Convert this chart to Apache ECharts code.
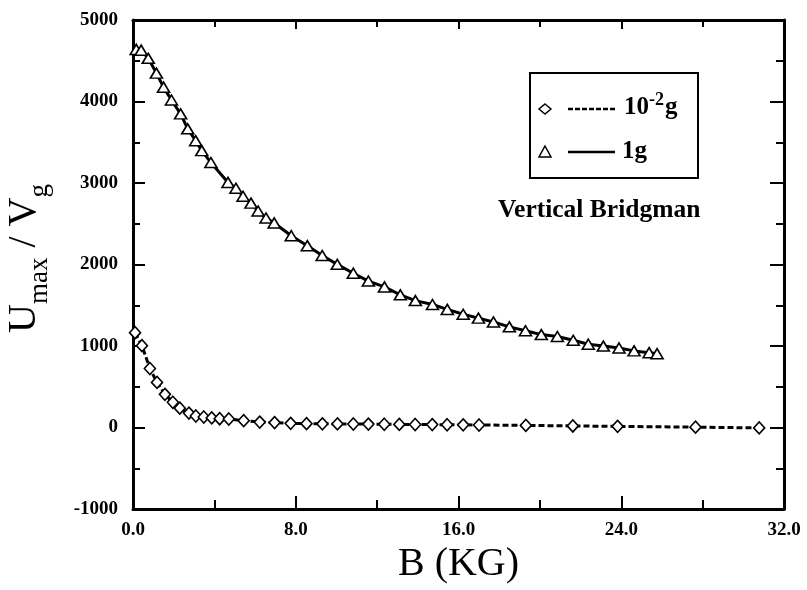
<!DOCTYPE html>
<html>
<head>
<meta charset="utf-8">
<script src="https://cdn.jsdelivr.net/npm/echarts@6/dist/echarts.min.js"></script>
<style>
  html, body { margin: 0; padding: 0; background: #fff; }
  #chart { width: 807px; height: 590px; }
</style>
</head>
<body>
<div id="chart"></div>
<script>
// Magnetic field B (kG) and Umax/Vg for the two gravity levels
const bField1g = [0.16, 0.40, 0.75, 1.15, 1.50, 1.89, 2.34, 2.69, 3.08, 3.38, 3.83, 4.67, 5.06, 5.41, 5.80,
  6.15, 6.54, 6.94, 7.78, 8.57, 9.30, 10.04, 10.83, 11.57, 12.36, 13.14, 13.88, 14.72, 15.45, 16.23,
  16.98, 17.72, 18.50, 19.29, 20.07, 20.86, 21.64, 22.38, 23.12, 23.89, 24.63, 25.37, 25.76];
const ratio1g = [4639, 4630, 4530, 4348, 4176, 4018, 3848, 3665, 3519, 3397, 3251, 3007, 2935, 2837, 2753,
  2656, 2570, 2510, 2353, 2231, 2110, 2002, 1893, 1797, 1725, 1628, 1557, 1509, 1449, 1389,
  1342, 1295, 1235, 1187, 1140, 1116, 1070, 1022, 999, 976, 940, 918, 906];

const bFieldMicro = [0.10, 0.44, 0.83, 1.18, 1.57, 1.96, 2.30, 2.75, 3.09, 3.48, 3.87, 4.26, 4.71, 5.44, 6.23,
  6.96, 7.75, 8.53, 9.31, 10.05, 10.83, 11.57, 12.35, 13.09, 13.87, 14.71, 15.44, 16.23, 17.01, 19.31,
  21.62, 23.82, 27.65, 30.78];
const ratioMicro = [1163, 1004, 724, 553, 407, 310, 237, 177, 141, 129, 118, 108, 104, 84, 66,
  60, 51, 47, 45, 44, 43, 42, 40, 38, 37, 36, 34, 33, 31, 26,
  19, 14, 4, -5];

const xTickLabels = ['0.0', '8.0', '16.0', '24.0', '32.0'];
const yTickLabels = ['-1000', '0', '1000', '2000', '3000', '4000', '5000'];

const X_MIN = 0, X_MAX = 32, X_STEP = 8;
const Y_MIN = -1000, Y_MAX = 5000, Y_STEP = 1000;

const FONT = '"Liberation Serif", "DejaVu Serif", serif';

function pairs(xs, ys) { return xs.map((x, i) => [x, ys[i]]); }

const chart = echarts.init(document.getElementById('chart'), null, { renderer: 'canvas' });

const axisLine = { show: true, onZero: false, lineStyle: { color: '#000', width: 3 } };

const option = {
  backgroundColor: '#fff',
  animation: false,
  grid: { left: 133, right: 23, top: 20, bottom: 81, containLabel: false, outerBoundsMode: 'none' },
  xAxis: [{
    type: 'value', min: X_MIN, max: X_MAX, interval: X_STEP, position: 'bottom',
    axisLine: axisLine,
    axisTick: { show: true, inside: true, length: 13, lineStyle: { color: '#000', width: 2 } },
    minorTick: { show: true, splitNumber: 2, length: 9, lineStyle: { color: '#000', width: 2 } },
    splitLine: { show: false },
    axisLabel: {
      color: '#000', fontFamily: FONT, fontWeight: 'bold', fontSize: 19, margin: 12,
      formatter: v => xTickLabels[Math.round((v - X_MIN) / X_STEP)]
    },
    name: 'B (KG)', nameLocation: 'middle', nameGap: 35,
    nameTextStyle: { color: '#000', fontFamily: FONT, fontSize: 40 }
  }, {
    type: 'value', min: X_MIN, max: X_MAX, interval: X_STEP, position: 'top',
    axisLine: axisLine,
    axisTick: { show: true, inside: true, length: 9, lineStyle: { color: '#000', width: 2 } },
    minorTick: { show: true, splitNumber: 2, length: 7, lineStyle: { color: '#000', width: 2 } },
    splitLine: { show: false }, axisLabel: { show: false }
  }],
  yAxis: [{
    type: 'value', min: Y_MIN, max: Y_MAX, interval: Y_STEP, position: 'left',
    axisLine: axisLine,
    axisTick: { show: true, inside: true, length: 12, lineStyle: { color: '#000', width: 2 } },
    minorTick: { show: true, splitNumber: 2, length: 7, lineStyle: { color: '#000', width: 2 } },
    splitLine: { show: false },
    axisLabel: {
      color: '#000', fontFamily: FONT, fontWeight: 'bold', fontSize: 19, margin: 15,
      formatter: v => yTickLabels[Math.round((v - Y_MIN) / Y_STEP)]
    },
    name: '{u|U}{s|max}{u| / V}{s|g}', nameLocation: 'middle', nameGap: 80, nameRotate: 90,
    nameTextStyle: {
      color: '#000', fontFamily: FONT, padding: [0, 0, 0, 12],
      rich: {
        u: { fontFamily: FONT, fontSize: 40, color: '#000', verticalAlign: 'bottom', padding: [0, 0, 9, 0] },
        s: { fontFamily: FONT, fontSize: 27, color: '#000', verticalAlign: 'bottom' }
      }
    }
  }, {
    type: 'value', min: Y_MIN, max: Y_MAX, interval: Y_STEP, position: 'right',
    axisLine: axisLine,
    axisTick: { show: true, inside: true, length: 14, lineStyle: { color: '#000', width: 2 } },
    minorTick: { show: true, splitNumber: 2, length: 8, lineStyle: { color: '#000', width: 2 } },
    splitLine: { show: false }, axisLabel: { show: false }
  }],
  series: [{
    name: '1g', type: 'line', xAxisIndex: 0, yAxisIndex: 0,
    data: pairs(bField1g, ratio1g),
    symbol: 'triangle', symbolSize: [12, 10],
    lineStyle: { color: '#000', width: 3 },
    itemStyle: { color: '#fff', borderColor: '#000', borderWidth: 1.6 },
    z: 3
  }, {
    name: '10-2g', type: 'line', xAxisIndex: 0, yAxisIndex: 0,
    data: pairs(bFieldMicro, ratioMicro),
    symbol: 'diamond', symbolSize: [11, 12],
    lineStyle: { color: '#000', width: 3, type: [6, 3] },
    itemStyle: { color: '#fff', borderColor: '#000', borderWidth: 1.6 },
    z: 3
  }],
  graphic: [{
    type: 'group', left: 529, top: 72,
    children: [
      { type: 'rect', shape: { x: 0, y: 0, width: 168, height: 105 },
        style: { fill: '#fff', stroke: '#000', lineWidth: 2 } },
      { type: 'polygon', shape: { points: [[15, 31], [21, 36], [15, 41], [9, 36]] },
        style: { fill: '#fff', stroke: '#000', lineWidth: 1.5 } },
      { type: 'line', shape: { x1: 38, y1: 36, x2: 85, y2: 36 },
        style: { stroke: '#000', lineWidth: 2.5, lineDash: [5, 2] } },
      { type: 'text', x: 94, y: 47,
        style: {
          text: '{n|10}{p|-2}{n|g}', textVerticalAlign: 'bottom',
          rich: {
            n: { fontFamily: FONT, fontWeight: 'bold', fontSize: 25, fill: '#000', verticalAlign: 'bottom' },
            p: { fontFamily: FONT, fontWeight: 'bold', fontSize: 18, fill: '#000', verticalAlign: 'bottom', padding: [0, 1, 11, 0] }
          }
        } },
      { type: 'polygon', shape: { points: [[15, 73], [21, 84], [9, 84]] },
        style: { fill: '#fff', stroke: '#000', lineWidth: 1.5 } },
      { type: 'line', shape: { x1: 38, y1: 79, x2: 85, y2: 79 },
        style: { stroke: '#000', lineWidth: 2.5 } },
      { type: 'text', x: 92, y: 91,
        style: { text: '1g', fontFamily: FONT, fontWeight: 'bold', fontSize: 25, fill: '#000', textVerticalAlign: 'bottom' } }
    ]
  }, {
    type: 'text', left: 498, top: 197,
    style: { text: 'Vertical Bridgman', fontFamily: FONT, fontWeight: 'bold', fontSize: 25.5, fill: '#000' }
  }]
};

chart.setOption(option);
</script>
</body>
</html>
